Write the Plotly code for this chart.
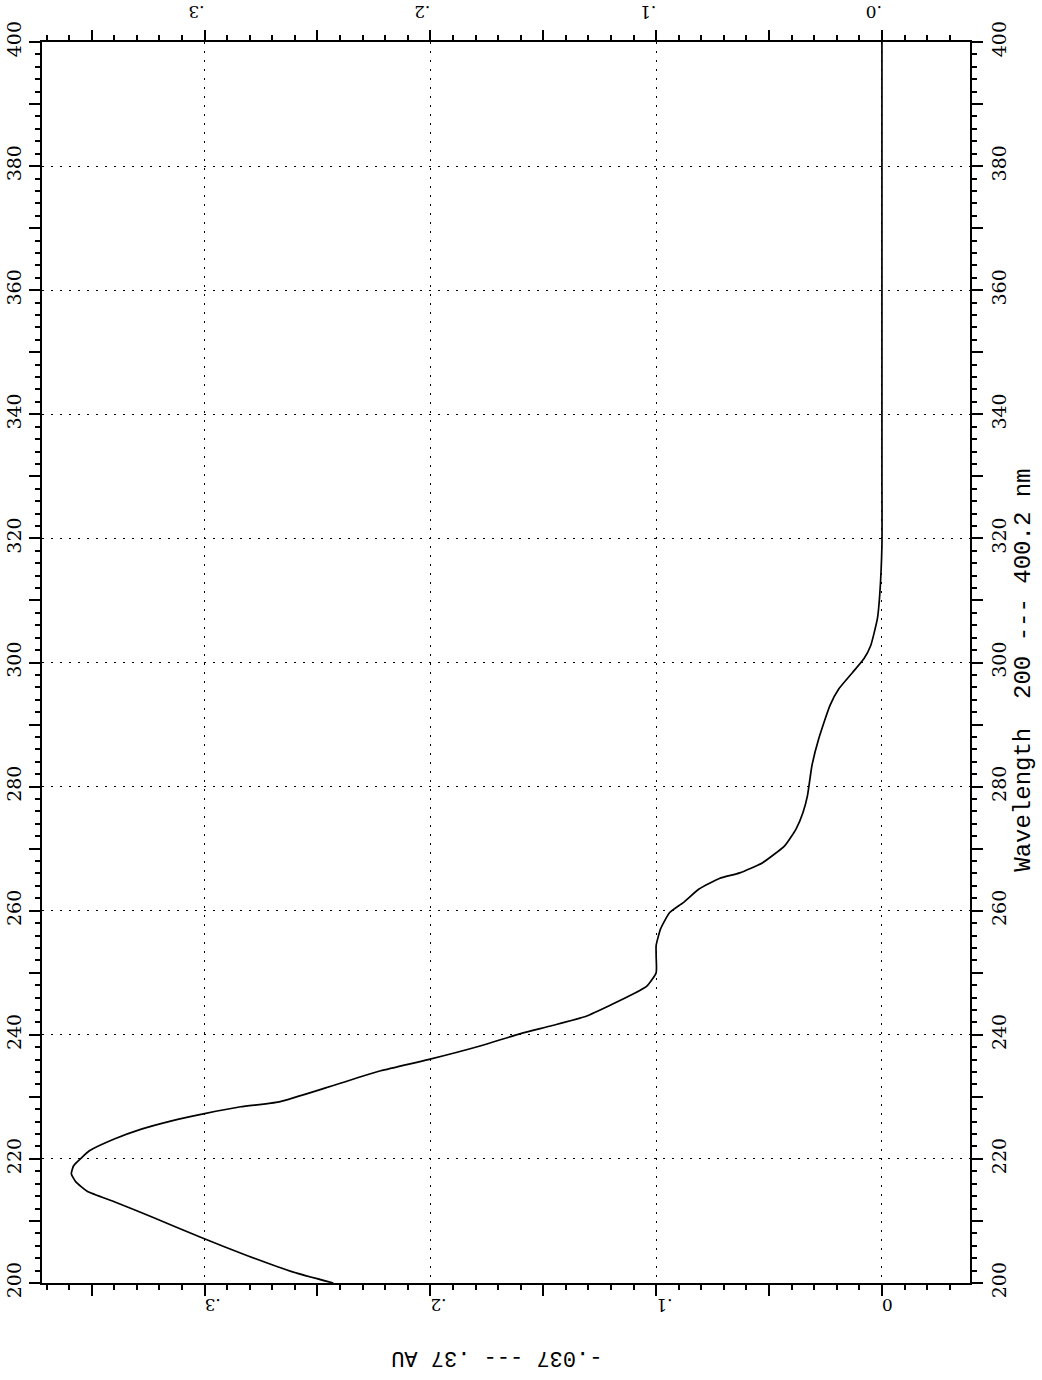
import plotly.graph_objects as go

# Wavelength (nm) and absorbance (AU)
wavelength = [200, 201.8, 204.4, 207.4, 210.6, 213.1, 214.8, 216.3, 217.6, 218.9,
              220, 221.3, 223.2, 224.8, 226.1, 227.3, 228.4, 229.2, 231.6, 234.2,
              236, 238.2, 240.2, 241.5, 243, 245, 246.6, 247.9, 250, 252.7,
              254.4, 257.1, 259.7, 261.3, 263.5, 265.2, 266.1, 267.7, 270.5, 273.2,
              275.8, 278.5, 283.4, 287.7, 293.1, 295.8, 298.4, 300.6, 302.7, 307.1,
              310.8, 318.9, 330, 340, 350, 360, 370, 380, 390, 400]
absorbance = [0.243, 0.261, 0.281, 0.302, 0.323, 0.340, 0.352, 0.357, 0.359, 0.358,
              0.355, 0.351, 0.340, 0.328, 0.315, 0.300, 0.284, 0.267, 0.245, 0.222,
              0.201, 0.178, 0.160, 0.146, 0.131, 0.119, 0.110, 0.104, 0.100, 0.100,
              0.100, 0.098, 0.094, 0.088, 0.081, 0.072, 0.063, 0.053, 0.043, 0.038,
              0.035, 0.033, 0.031, 0.028, 0.023, 0.019, 0.013, 0.008, 0.005, 0.002,
              0.001, 0.000, 0.000, 0.000, 0.000, 0.000, 0.000, 0.000, 0.000, 0.000]

# Axis ticks
abs_ticks = [0, 0.05, 0.1, 0.15, 0.2, 0.25, 0.3, 0.35]
abs_text_bottom = ["0", "", ".1", "", ".2", "", ".3", ""]
abs_text_top = [".0", "", ".1", "", ".2", "", ".3", ""]
abs_grid = [0, 0.1, 0.2, 0.3]
wl_ticks = list(range(200, 401, 10))
wl_text = [str(v) if v % 20 == 0 else "" for v in wl_ticks]
wl_grid = list(range(220, 400, 20))
abs_range = [0.372, -0.039]
wl_range = [200, 400]

bottom_title = "-.037 --- .37 AU"
right_title = "Wavelength  200 --- 400.2 nm"

fig = go.Figure()
fig.add_trace(go.Scatter(x=absorbance, y=wavelength, mode="lines",
                         line=dict(color="black", width=1.7, shape="spline", smoothing=0.5),
                         showlegend=False, hoverinfo="skip"))
# helper traces so overlay axes are drawn
fig.add_trace(go.Scatter(x=absorbance, y=wavelength, mode="lines", xaxis="x2", yaxis="y2",
                         line=dict(width=0), opacity=0, showlegend=False, hoverinfo="skip"))
fig.add_trace(go.Scatter(x=absorbance, y=wavelength, mode="lines", xaxis="x3", yaxis="y3",
                         line=dict(width=0), opacity=0, showlegend=False, hoverinfo="skip"))

tickfont_abs = dict(family="DejaVu Serif", size=17, color="black")
tickfont_wl = dict(family="DejaVu Serif", size=19, color="black")
minor_abs = dict(dtick=0.01, tick0=0, ticklen=5, ticks="outside", tickcolor="black", tickwidth=1.5, showgrid=False)
minor_wl = dict(dtick=2, tick0=200, ticklen=5, ticks="outside", tickcolor="black", tickwidth=1.5, showgrid=False)

fig.update_layout(
    width=1042, height=1380,
    margin=dict(l=42, r=72, t=42, b=97, autoexpand=False),
    paper_bgcolor="white", plot_bgcolor="white",
    xaxis=dict(range=abs_range, tickmode="array", tickvals=abs_ticks, ticktext=abs_text_bottom,
               ticks="outside", ticklen=11, tickwidth=1.5, tickcolor="black",
               minor=minor_abs, tickangle=180, tickfont=tickfont_abs, automargin=False,
               showline=True, linecolor="black", linewidth=2, showgrid=False,
               zeroline=False, anchor="y"),
    xaxis2=dict(range=abs_range, overlaying="x", side="top", anchor="y", tickmode="array",
                tickvals=abs_ticks, ticktext=abs_text_top,
                ticks="outside", ticklen=10, tickwidth=1.5, tickcolor="black",
                minor=dict(dtick=0.01, tick0=0, ticklen=5, ticks="outside", tickcolor="black",
                           tickwidth=1.5, showgrid=False),
                tickangle=180, tickfont=tickfont_abs, automargin=False,
                showline=True, linecolor="black", linewidth=2, showgrid=False, zeroline=False),
    xaxis3=dict(range=abs_range, overlaying="x", side="bottom", anchor="y", tickmode="array",
                tickvals=abs_grid, showticklabels=False, ticks="", automargin=False,
                showgrid=True, gridcolor="black", gridwidth=1.2, griddash="2px,7px",
                showline=False, zeroline=False),
    yaxis=dict(range=wl_range, tickmode="array", tickvals=wl_ticks, ticktext=wl_text,
               ticks="outside", ticklen=11, tickwidth=1.5, tickcolor="black",
               minor=minor_wl, tickangle=-90, tickfont=tickfont_wl, automargin=False,
               showline=True, linecolor="black", linewidth=2, showgrid=False,
               zeroline=False, anchor="x"),
    yaxis2=dict(range=wl_range, overlaying="y", side="right", anchor="x", tickmode="array",
                tickvals=wl_ticks, ticktext=wl_text,
                ticks="outside", ticklen=11, tickwidth=1.5, tickcolor="black",
                minor=minor_wl, tickangle=-90, tickfont=tickfont_wl, automargin=False,
                showline=True, linecolor="black", linewidth=2, showgrid=False, zeroline=False),
    yaxis3=dict(range=wl_range, overlaying="y", side="left", anchor="x", tickmode="array",
                tickvals=wl_grid, showticklabels=False, ticks="", automargin=False,
                showgrid=True, gridcolor="black", gridwidth=1.2, griddash="2px,7px",
                showline=False, zeroline=False),
    annotations=[
        dict(text=bottom_title, xref="paper", yref="paper", x=0.49, y=-0.06,
             showarrow=False, textangle=180, xanchor="center", yanchor="middle",
             font=dict(family="Liberation Mono", size=22, color="black")),
        dict(text=right_title, xref="paper", yref="paper", x=1.058, y=0.494,
             showarrow=False, textangle=-90, xanchor="center", yanchor="middle",
             font=dict(family="Liberation Mono", size=24, color="black")),
    ],
)

fig.write_html("out.html")
